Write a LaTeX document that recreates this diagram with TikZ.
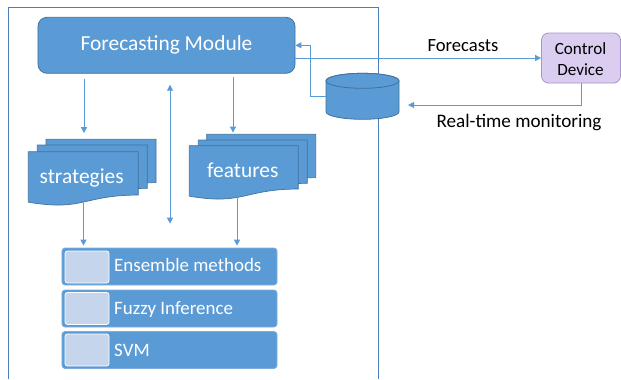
\documentclass[tikz,border=0pt]{standalone}
\usepackage{fontspec}
\setmainfont{Carlito}
\usetikzlibrary{arrows.meta}
\definecolor{mainblue}{HTML}{5B9BD5}
\definecolor{darkborder}{HTML}{41719C}
\definecolor{framecol}{HTML}{4A7DBA}
\definecolor{sqfill}{HTML}{C5D5EC}
\definecolor{cdfill}{HTML}{DACDEF}
\definecolor{cdborder}{HTML}{A795CB}
\tikzset{
  conn/.style={draw=mainblue, line width=0.9bp, -{Triangle[length=6bp,width=6bp]}},
  conn2/.style={draw=mainblue, line width=0.9bp, {Triangle[length=6bp,width=6bp]}-{Triangle[length=6bp,width=6bp]}},
  bluebox/.style={fill=mainblue, draw=darkborder, line width=0.8bp},
  docshape/.style={fill=mainblue, draw=darkborder, line width=0.7bp},
  listbox/.style={fill=mainblue, draw=mainblue!80!white, line width=0.7bp, rounded corners=3bp, minimum width=215bp, minimum height=37bp, inner sep=0pt},
  sqbox/.style={fill=sqfill, draw=white, line width=0.8bp, rounded corners=2.5bp, minimum width=44bp, minimum height=32bp, inner sep=0pt},
  whitetxt/.style={text=white, inner sep=0pt},
  blacktxt/.style={text=black, inner sep=0pt},
  ghost/.style={draw=none, fill=none, inner sep=0pt}
}
\newcommand{\mydoc}[4]{%
  \path[docshape] (#1,#2) -- (#1+#3,#2) -- (#1+#3,#2+0.802*#4)
    .. controls (#1+0.5*#3,#2+0.802*#4) and (#1+0.5*#3,#2+1.108*#4) .. (#1,#2+0.934*#4) -- cycle;}
\begin{document}
\begin{tikzpicture}[x=1bp,y=-1bp]
\useasboundingbox (0,0) rectangle (621,379);
% frame
\draw[framecol, line width=1bp] (8.5,379) -- (8.5,7) -- (378,7) -- (378,379);

% Forecasting module
\node[bluebox, rounded corners=9bp, minimum width=257bp, minimum height=56bp, inner sep=0pt,
  text=white, font=\fontsize{21.5}{24}\selectfont] (fm) at (166.5,45.3) {Forecasting Module};

% cylinder (database)
\path[bluebox] (326,80.8) -- (326,111.8) arc[start angle=180, end angle=360, x radius=36.5, y radius=-7.5]
  -- (399,80.8) arc[start angle=0, end angle=180, x radius=36.5, y radius=-7.5] -- cycle;
\path[bluebox] (362.5,80.8) ellipse[x radius=36.5, y radius=7.5];
\node[ghost, minimum width=73bp, minimum height=46bp] (db) at (362.5,96.3) {};

% control device
\node[fill=cdfill, draw=cdborder, line width=0.8bp, rounded corners=7bp, minimum width=79bp, minimum height=50bp,
  inner sep=0pt] (cd) at (581,58) {};
\node[blacktxt, anchor=base, font=\fontsize{17.2}{20}\selectfont] (cdt1) at (580.5,54) {Control};
\node[blacktxt, anchor=base, font=\fontsize{17.2}{20}\selectfont] (cdt2) at (580.5,75) {Device};

% strategies documents
\mydoc{46}{139.3}{110}{54}
\mydoc{37.3}{145}{110}{54}
\mydoc{28.3}{151.7}{110}{54}
\node[ghost, minimum width=110bp, minimum height=51bp] (st) at (83.3,177.2) {};
\node[ghost, minimum width=110bp, minimum height=42bp] (stback) at (101,160.3) {};
\node[whitetxt, anchor=base, font=\fontsize{21.5}{24}\selectfont] (stt) at (81.7,183.3) {strategies};

% features documents
\mydoc{206.7}{134.3}{109}{54}
\mydoc{198.3}{140}{109}{54}
\mydoc{189.3}{145.7}{109}{54}
\node[ghost, minimum width=109bp, minimum height=51bp] (ft) at (243.8,171.2) {};
\node[ghost, minimum width=109bp, minimum height=42bp] (ftback) at (261.2,155.3) {};
\node[whitetxt, anchor=base, font=\fontsize{21.5}{24}\selectfont] (ftt) at (242.8,177.7) {features};

% list boxes
\node[listbox] (ens) at (169.5,266.5) {};
\node[listbox] (fuz) at (169.5,308.5) {};
\node[listbox] (svm) at (169.5,350) {};
\node[sqbox] (sq1) at (87,267) {};
\node[sqbox] (sq2) at (87,308.5) {};
\node[sqbox] (sq3) at (87,350) {};
\node[whitetxt, anchor=base west, font=\fontsize{19}{22}\selectfont] (enst) at (114,271.7) {Ensemble methods};
\node[whitetxt, anchor=base west, font=\fontsize{19}{22}\selectfont] (fuzt) at (114,314) {Fuzzy Inference};
\node[whitetxt, anchor=base west, font=\fontsize{19}{22}\selectfont] (svmt) at (114,356) {SVM};

% connectors
\draw[conn, shorten <=5bp, shorten >=6bp] (fm.south -| 84,0) -- (stback.north -| 84,0);
\draw[conn, shorten <=3bp, shorten >=1.5bp] (fm.south -| 233,0) -- (ftback.north -| 233,0);
\draw[conn2, shorten <=11bp, shorten >=24bp] (fm.south -| 170,0) -- (ens.north -| 170,0);
\draw[conn, shorten <=0bp, shorten >=2bp] (st.south -| 83.5,0) -- (ens.north -| 83.5,0);
\draw[conn, shorten <=0bp, shorten >=2bp] (ft.south -| 237,0) -- (ens.north -| 237,0);

% feedback from database
\draw[conn] (db.west) -- ++(-15,0) |- (fm.east);
% forecasts
\draw[conn] (fm.east |- cd.west) -- (cd.west);
\node[blacktxt, anchor=base, font=\fontsize{18.7}{22}\selectfont] (fcl) at (463,51.7) {Forecasts};
% real-time monitoring
\coordinate (rtend) at (408,105);
\draw[conn] (cd.south) |- (rtend);
\node[blacktxt, anchor=base, font=\fontsize{19.2}{22}\selectfont] (rtl) at (519,127.7) {Real-time monitoring};
\end{tikzpicture}
\end{document}
